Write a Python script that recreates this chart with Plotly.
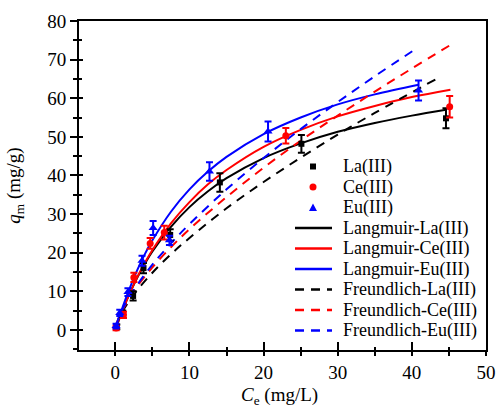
import plotly.graph_objects as go

# ---------------- data ----------------
la_x = [0.2, 1.0, 2.4, 3.8, 7.4, 14.1, 25.1, 44.6]
la_y = [0.8, 4.2, 8.8, 16.0, 24.6, 38.2, 48.2, 54.8]
la_err = [0.6, 0.8, 1.2, 1.3, 1.5, 2.4, 2.3, 2.6]

ce_x = [0.1, 1.1, 2.5, 4.7, 6.6, 23.0, 45.1]
ce_y = [0.5, 3.9, 13.6, 22.4, 25.2, 50.3, 57.8]
ce_err = [0.6, 0.8, 1.2, 1.4, 1.8, 2.0, 2.8]

eu_x = [0.1, 0.6, 1.7, 3.6, 5.1, 7.3, 12.7, 20.6, 40.9]
eu_y = [1.0, 4.4, 9.8, 17.9, 26.4, 23.2, 41.0, 51.4, 62.0]
eu_err = [0.6, 0.8, 1.0, 1.3, 1.8, 1.2, 2.4, 2.6, 2.6]

# fitted curves
lang_la_x = [0, 0.5, 1, 2, 3, 4, 5, 7.5, 10, 12.5, 15, 20, 25, 30, 35, 40, 44.6]
lang_la_y = [0, 2.7, 5.2, 9.7, 13.7, 17.2, 20.3, 26.7, 31.8, 35.9, 39.3, 44.5, 48.3, 51.3, 53.6, 55.5, 57.0]

lang_ce_x = [0, 0.5, 1, 2, 3, 4, 5, 7.5, 10, 12.5, 15, 20, 25, 30, 35, 40, 45.2]
lang_ce_y = [0, 2.7, 5.2, 9.7, 13.8, 17.4, 20.7, 27.6, 33.1, 37.7, 41.4, 47.4, 51.8, 55.3, 58.0, 60.3, 62.2]

lang_eu_x = [0, 0.5, 1, 2, 3, 4, 5, 7.5, 10, 12.5, 15, 20, 25, 30, 35, 40.9]
lang_eu_y = [0, 3.1, 6.0, 11.1, 15.7, 19.7, 23.2, 30.6, 36.4, 41.0, 44.8, 50.7, 55.0, 58.4, 61.0, 63.5]

freu_la_x = [0.1, 0.5, 1, 2, 3, 5, 7.5, 10, 15, 20, 25, 30, 35, 43.4]
freu_la_y = [1.0, 3.1, 4.9, 7.9, 10.4, 14.8, 19.6, 23.8, 31.5, 38.3, 44.6, 50.6, 56.2, 65.1]

freu_ce_x = [0.1, 0.5, 1, 2, 3, 5, 7.5, 10, 15, 20, 25, 30, 35, 40, 45.3]
freu_ce_y = [1.1, 3.3, 5.3, 8.6, 11.4, 16.2, 21.4, 26.1, 34.4, 42.0, 49.0, 55.5, 61.7, 67.7, 73.9]

freu_eu_x = [0.1, 0.5, 1, 2, 3, 5, 7.5, 10, 15, 20, 25, 30, 35, 40.4]
freu_eu_y = [1.1, 3.4, 5.5, 8.9, 11.8, 16.9, 22.4, 27.4, 36.4, 44.5, 52.0, 59.0, 65.7, 72.6]

x_ticks = [0, 10, 20, 30, 40, 50]
y_ticks = [0, 10, 20, 30, 40, 50, 60, 70, 80]

x_title = "<i>C</i><sub>e</sub> (mg/L)"
y_title = "<i>q</i><sub>m</sub> (mg/g)"

names = ["La(III)", "Ce(III)", "Eu(III)",
         "Langmuir-La(III)", "Langmuir-Ce(III)", "Langmuir-Eu(III)",
         "Freundlich-La(III)", "Freundlich-Ce(III)", "Freundlich-Eu(III)"]
colors = ["#000000", "#ff0000", "#0000ff"]

FONT = "Liberation Serif"

fig = go.Figure()

# fitted curves
for cx, cy, col, nm in [(lang_la_x, lang_la_y, colors[0], names[3]),
                        (lang_ce_x, lang_ce_y, colors[1], names[4]),
                        (lang_eu_x, lang_eu_y, colors[2], names[5])]:
    fig.add_trace(go.Scatter(x=cx, y=cy, mode="lines", name=nm, showlegend=False,
                             line=dict(color=col, width=2, shape="spline")))
for cx, cy, col, nm in [(freu_la_x, freu_la_y, colors[0], names[6]),
                        (freu_ce_x, freu_ce_y, colors[1], names[7]),
                        (freu_eu_x, freu_eu_y, colors[2], names[8])]:
    fig.add_trace(go.Scatter(x=cx, y=cy, mode="lines", name=nm, showlegend=False,
                             line=dict(color=col, width=2, dash="9px,7px", shape="spline")))

# experimental points
for px, py, pe, col, sym, nm, sz in [(la_x, la_y, la_err, colors[0], "square", names[0], 6),
                                     (ce_x, ce_y, ce_err, colors[1], "circle", names[1], 7),
                                     (eu_x, eu_y, eu_err, colors[2], "triangle-up", names[2], 8)]:
    fig.add_trace(go.Scatter(x=px, y=py, mode="markers", name=nm, showlegend=False,
                             marker=dict(color=col, symbol=sym, size=sz),
                             error_y=dict(type="data", array=pe, visible=True,
                                          color=col, thickness=2, width=3.5)))

# overlay axes giving the inner half of the crossing ticks
fig.add_trace(go.Scatter(x=[None], y=[None], xaxis="x2", yaxis="y2",
                         showlegend=False, hoverinfo="skip"))

# ---------------- custom legend (paper coords) ----------------
L, R, T, B = 79, 14, 21, 56
W, H = 500, 406
pw, ph = W - L - R, H - T - B


def px2x(p):
    return (p - L) / pw


def px2y(p):
    return (H - B - p) / ph


row0, step = 166.5, 20.5
sym_x0, sym_x1, mk_x, txt_x = 295, 332, 313, 341
shapes = []
annotations = []
for i, nm in enumerate(names):
    yy = row0 + i * step
    col = colors[i % 3]
    if i == 0:
        shapes.append(dict(type="rect", xref="paper", yref="paper",
                           x0=px2x(mk_x - 3), x1=px2x(mk_x + 3),
                           y0=px2y(yy + 3), y1=px2y(yy - 3),
                           fillcolor=col, line=dict(width=0)))
    elif i == 1:
        shapes.append(dict(type="circle", xref="paper", yref="paper",
                           x0=px2x(mk_x - 3.5), x1=px2x(mk_x + 3.5),
                           y0=px2y(yy + 3.5), y1=px2y(yy - 3.5),
                           fillcolor=col, line=dict(width=0)))
    elif i == 2:
        path = "M {} {} L {} {} L {} {} Z".format(
            px2x(mk_x - 4), px2y(yy + 3.5), px2x(mk_x + 4), px2y(yy + 3.5),
            px2x(mk_x), px2y(yy - 4))
        shapes.append(dict(type="path", xref="paper", yref="paper", path=path,
                           fillcolor=col, line=dict(width=0)))
    else:
        dash = "solid" if i < 6 else "9px,7px"
        shapes.append(dict(type="line", xref="paper", yref="paper",
                           x0=px2x(sym_x0), x1=px2x(sym_x1),
                           y0=px2y(yy), y1=px2y(yy),
                           line=dict(color=col, width=2.5, dash=dash)))
    annotations.append(dict(text=nm, xref="paper", yref="paper",
                            x=px2x(txt_x), y=px2y(yy), xanchor="left", yanchor="middle",
                            showarrow=False, font=dict(family=FONT, size=18, color="#000")))

# x-axis title
annotations.append(dict(text=x_title, xref="paper", yref="paper",
                        x=px2x(279), y=px2y(409), xanchor="center", yanchor="bottom",
                        borderpad=0,
                        showarrow=False, font=dict(family=FONT, size=19, color="#000")))

common = dict(showgrid=False, zeroline=False, linecolor="#000", linewidth=2,
              tickwidth=2, tickcolor="#000", automargin=False,
              tickfont=dict(family=FONT, size=19, color="#000"))
minor_out = dict(ticks="outside", ticklen=4, tickwidth=2, tickcolor="#000", dtick=5)
minor_in = dict(ticks="inside", ticklen=3, tickwidth=2, tickcolor="#000", dtick=5)

fig.update_layout(
    width=W, height=H,
    margin=dict(l=L, r=R, t=T, b=B),
    paper_bgcolor="white", plot_bgcolor="white",
    showlegend=False,
    font=dict(family=FONT, color="#000", size=19),
    xaxis=dict(range=[-4.9, 50], tickvals=x_ticks, mirror=True, minor=minor_out,
               ticks="outside", ticklen=4, **common),
    yaxis=dict(range=[-5.2, 80], tickvals=y_ticks, mirror=True, minor=minor_out,
               ticks="outside", ticklen=7,
               title=dict(text=y_title, standoff=22,
                          font=dict(family=FONT, size=19, color="#000")),
               **common),
    xaxis2=dict(overlaying="x", anchor="y2", range=[-4.9, 50], tickvals=x_ticks,
                showgrid=False, zeroline=False, showline=False, showticklabels=False,
                ticks="inside", ticklen=8, tickwidth=2, tickcolor="#000", minor=minor_in),
    yaxis2=dict(overlaying="y", anchor="x2", range=[-5.2, 80], tickvals=y_ticks,
                showgrid=False, zeroline=False, showline=False, showticklabels=False,
                ticks="inside", ticklen=4, tickwidth=2, tickcolor="#000", minor=minor_in),
    shapes=shapes,
    annotations=annotations,
)

fig.write_html("out.html")
